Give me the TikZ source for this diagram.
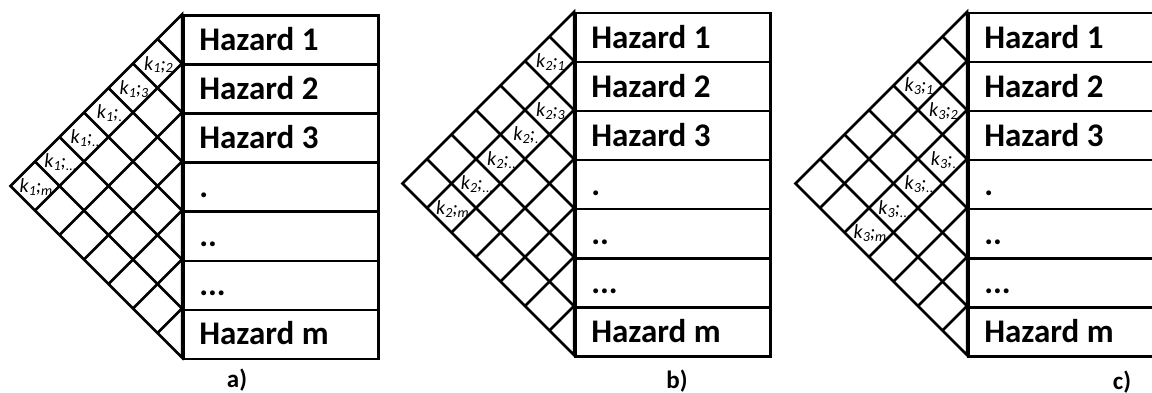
\documentclass[tikz,border=0pt]{standalone}
\usepackage{fontspec}
\setmainfont{Carlito}
\tikzset{
  ln/.style={line width=2.5pt, line join=miter},
  hz/.style={draw, line width=2.5pt, minimum width=195pt, minimum height=49pt,
    inner sep=0pt, anchor=north west,
    text height=21pt, text depth=0pt,
    font=\fontsize{33}{34}\selectfont\bfseries},
  kl/.style={inner sep=0pt, font=\fontsize{20}{20}\selectfont\itshape},
  pl/.style={anchor=base, font=\fontsize{25}{25}\selectfont\bfseries}
}
\newcommand\hzt[1]{\makebox[163pt][l]{#1}}
\newcommand\kk[2]{k\raisebox{-0.3ex}{\fontsize{14}{14}\selectfont #1};\raisebox{-0.3ex}{\fontsize{14}{14}\selectfont #2}}
\newcommand\klab[4]{\node[kl] (#1-k#2#3) at ({-(#3-#2)*24.5+1},{(#2+#3-1)*24.5+1}) {#4};}
\newcommand\drawpanel[3]{%
  \begin{scope}[shift={(#2,#3)}]
    \coordinate (#1-apex) at (-171.5,171.5);
    \foreach \k in {0,...,7}{
      \coordinate (#1-p\k) at (0,{\k*49});
      \coordinate (#1-u\k) at ({-\k*24.5},{\k*24.5});
      \coordinate (#1-l\k) at ({-(7-\k)*24.5},{(7+\k)*24.5});
    }
    \node[hz] (#1-h1) at (#1-p0) {\hzt{Hazard 1}};
    \node[hz] (#1-h2) at (#1-p1) {\hzt{Hazard 2}};
    \node[hz] (#1-h3) at (#1-p2) {\hzt{Hazard 3}};
    \node[hz] (#1-h4) at (#1-p3) {\hzt{.}};
    \node[hz] (#1-h5) at (#1-p4) {\hzt{..}};
    \node[hz] (#1-h6) at (#1-p5) {\hzt{...}};
    \node[hz] (#1-h7) at (#1-p6) {\hzt{Hazard m}};
    \draw[ln] (#1-p0) -- (#1-apex) -- (#1-p7) -- cycle;
    \foreach \k in {1,...,6}{
      \draw[ln] (#1-u\k) -- (#1-p\k) -- (#1-l\k);
    }
  \end{scope}}
\begin{document}
\begin{tikzpicture}[x=1pt,y=-1pt]
  \useasboundingbox (0,0) rectangle (1152,393);
  \clip (0,0) rectangle (1152,393);
  % panel a
  \drawpanel{a}{182}{14.5}
  \begin{scope}[shift={(182,14.5)}]
    \klab{a}{1}{2}{\kk{1}{2}}
    \klab{a}{1}{3}{\kk{1}{3}}
    \klab{a}{1}{4}{\kk{1}{.}}
    \klab{a}{1}{5}{\kk{1}{..}}
    \klab{a}{1}{6}{\kk{1}{...}}
    \klab{a}{1}{7}{\kk{1}{m}}
  \end{scope}
  % panel b
  \drawpanel{b}{574}{12}
  \begin{scope}[shift={(574,12)}]
    \klab{b}{1}{2}{\kk{2}{1}}
    \klab{b}{2}{3}{\kk{2}{3}}
    \klab{b}{2}{4}{\kk{2}{.}}
    \klab{b}{2}{5}{\kk{2}{..}}
    \klab{b}{2}{6}{\kk{2}{...}}
    \klab{b}{2}{7}{\kk{2}{m}}
  \end{scope}
  % panel c
  \drawpanel{c}{967}{12}
  \begin{scope}[shift={(967,12)}]
    \klab{c}{1}{3}{\kk{3}{1}}
    \klab{c}{2}{3}{\kk{3}{2}}
    \klab{c}{3}{4}{\kk{3}{.}}
    \klab{c}{3}{5}{\kk{3}{..}}
    \klab{c}{3}{6}{\kk{3}{...}}
    \klab{c}{3}{7}{\kk{3}{m}}
  \end{scope}
  \node[pl] (labA) at (237,387) {a)};
  \node[pl] (labB) at (677,388) {b)};
  \node[pl] (labC) at (1122,389) {c)};
\end{tikzpicture}
\end{document}
